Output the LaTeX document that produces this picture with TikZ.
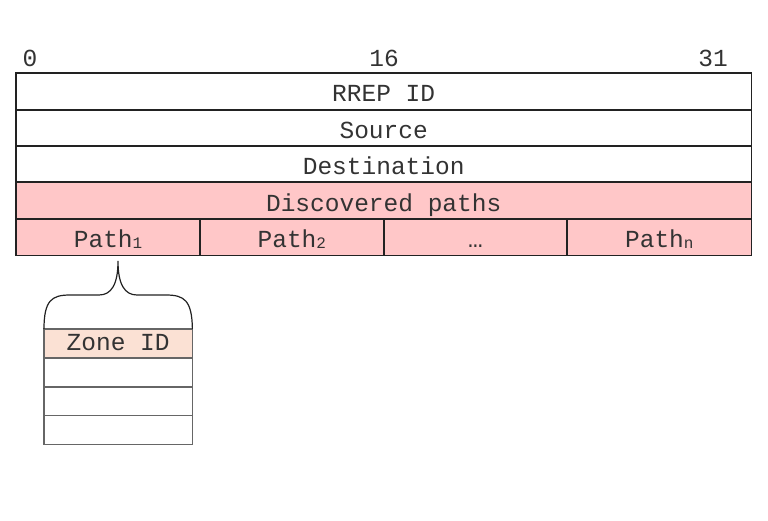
\documentclass[tikz,border=0pt]{standalone}
\usepackage{fontspec}
\setmainfont{Liberation Mono}
\definecolor{linecol}{HTML}{222222}
\definecolor{graycol}{HTML}{666666}
\definecolor{textcol}{HTML}{333333}
\definecolor{pinkfill}{HTML}{FFC7C8}
\definecolor{peachfill}{HTML}{FBE1D4}
\newcommand{\fieldfont}{\fontsize{24.5}{26}\selectfont}
\newcommand{\subidx}[1]{\raisebox{-1pt}{\fontsize{16}{16}\selectfont #1}}
\begin{document}
\begin{tikzpicture}[x=1pt,y=-1pt,
  field/.style={minimum width=735pt, minimum height=36.4pt, text height=21pt, text depth=0pt,
    inner sep=0pt, anchor=north west, font=\fieldfont, text=textcol},
  pathcell/.style={field, minimum width=183.75pt},
  zonecell/.style={minimum width=148pt, minimum height=28.75pt, text height=14pt, text depth=0pt,
    inner sep=0pt, anchor=north west, font=\fieldfont, text=textcol},
  border/.style={draw=linecol, line width=1.6pt},
  zoneborder/.style={draw=graycol, line width=1.2pt},
  bitlabel/.style={font=\fieldfont, text=textcol, inner sep=0pt},
  bracestyle/.style={draw=linecol, line width=1.2pt}]
\useasboundingbox (0,0) rectangle (768,520);
\node[bitlabel] (b0) at (30,58) {0};
\node[bitlabel] (b16) at (384,58) {16};
\node[bitlabel] (b31) at (713,58) {31};
\node[field] (r1) at (16,73) {RREP ID};
\node[field] (r2) at (16,109.4) {Source};
\node[field] (r3) at (16,145.8) {Destination};
\node[field, fill=pinkfill] (r4) at (16,182.2) {Discovered paths};
\node[pathcell, fill=pinkfill] (p1) at (16,218.6) {Path\subidx{1}};
\node[pathcell, fill=pinkfill] (p2) at (199.75,218.6) {Path\subidx{2}};
\node[pathcell, fill=pinkfill] (p3) at (383.5,218.6) {…};
\node[pathcell, fill=pinkfill] (p4) at (567.25,218.6) {Path\subidx{n}};
\foreach \n in {r1,r2,r3,r4,p1,p2,p3,p4}
  \draw[border] (\n.north west) rectangle (\n.south east);
\node[zonecell, fill=peachfill] (z1) at (44,329) {Zone ID};
\node[zonecell] (z2) at (44,357.75) {};
\node[zonecell] (z3) at (44,386.5) {};
\node[zonecell] (z4) at (44,415.25) {};
\foreach \n in {z1,z2,z3,z4}
  \draw[zoneborder] (\n.north west) rectangle (\n.south east);
\path[bracestyle] (z1.north west) .. controls (44,300) and (52,295) .. (70,295)
  -- (99,295) .. controls (111,295) and (118,285) .. (118,261)
  .. controls (118,285) and (125,295) .. (137,295)
  -- (166,295) .. controls (184,295) and (192,300) .. (z1.north east);
\end{tikzpicture}
\end{document}
